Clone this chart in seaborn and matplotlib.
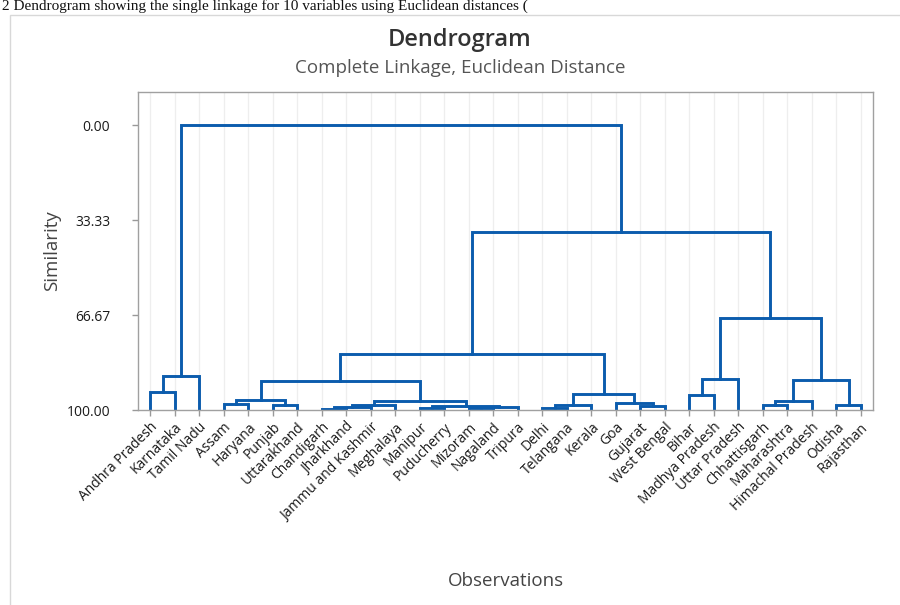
import pandas as pd
import matplotlib.pyplot as plt
from matplotlib.patches import Rectangle
import seaborn as sns

# leaf order as shown on the x axis
states = [
    "Andhra Pradesh", "Karnataka", "Tamil Nadu", "Assam", "Haryana", "Punjab",
    "Uttarakhand", "Chandigarh", "Jharkhand", "Jammu and Kashmir", "Meghalaya",
    "Manipur", "Puducherry", "Mizoram", "Nagaland", "Tripura", "Delhi",
    "Telangana", "Kerala", "Goa", "Gujarat", "West Bengal", "Bihar",
    "Madhya Pradesh", "Uttar Pradesh", "Chhattisgarh", "Maharashtra",
    "Himachal Pradesh", "Odisha", "Rajasthan",
]

# merge steps: ids < 30 are leaves, id 30 + k is the k-th merge
merge_left = [0, 30, 3, 5, 32, 7, 35, 36, 11, 13, 39, 38, 37, 34,
              16, 44, 20, 19, 45, 43, 22, 50, 25, 52, 28, 53, 51, 49, 31]
merge_right = [1, 2, 4, 6, 33, 8, 9, 10, 12, 14, 15, 40, 41, 42,
               17, 18, 21, 46, 47, 48, 23, 24, 26, 27, 29, 54, 55, 56, 57]
merge_sim = [93.7, 88.1, 97.9, 98.2, 96.5, 99.5, 99.0, 98.4, 99.3, 99.4,
             99.0, 98.6, 96.8, 89.7, 99.2, 98.2, 98.6, 97.5, 94.4, 80.4,
             94.7, 89.1, 98.2, 96.8, 98.2, 89.5, 67.7, 37.5, 0.0]

yticks = [0, 33.33, 66.67, 100]
ytick_labels = ["0.00", "33.33", "66.67", "100.00"]

n = len(states)
xpos = {i: float(i) for i in range(n)}
ypos = {i: 100.0 for i in range(n)}
rows = []
for k, (a, b, s) in enumerate(zip(merge_left, merge_right, merge_sim)):
    for x, y in [(xpos[a], ypos[a]), (xpos[a], s), (xpos[b], s), (xpos[b], ypos[b])]:
        rows.append({"seg": k, "x": x, "y": y})
    xpos[n + k] = (xpos[a] + xpos[b]) / 2
    ypos[n + k] = s
segs = pd.DataFrame(rows)

sns.set_theme(style="white")
plt.rcParams["font.family"] = ["Open Sans", "DejaVu Sans"]

fig = plt.figure(figsize=(9, 6.05), dpi=100)
ax = fig.add_axes([138 / 900, 1 - 410 / 605, 735 / 900, 318 / 605])

sns.lineplot(data=segs, x="x", y="y", units="seg", estimator=None, sort=False,
             color="#0b5cad", linewidth=2.1, ax=ax, legend=False,
             solid_joinstyle="miter", solid_capstyle="projecting")

ax.set_xlim(-0.5, n - 0.5)
ax.set_ylim(100, -11.6)
ax.set_xticks(range(n))
ax.set_xticklabels(states, rotation=45, ha="right", rotation_mode="anchor",
                   fontsize=10, color="#1a1a1a")
ax.set_yticks(yticks)
ax.set_yticklabels(ytick_labels, fontsize=10, color="#1a1a1a")
ax.tick_params(axis="both", length=4, width=1, color="#999999", direction="out",
               bottom=True, left=True, pad=3)
ax.tick_params(axis="y", pad=16)
ax.xaxis.grid(True, color="#eeeeee", linewidth=0.9)
ax.set_axisbelow(True)
for sp in ax.spines.values():
    sp.set_color("#a0a0a0")
    sp.set_linewidth(1.0)

ax.set_xlabel("Observations", fontsize=13.5, color="#444444", labelpad=0)
ax.xaxis.set_label_coords(0.5, -0.51)
ax.set_ylabel("Similarity", fontsize=13.5, color="#444444")
ax.yaxis.set_label_coords(-0.104, 0.5)

fig.text(0.511, 0.934, "Dendrogram", ha="center", va="center", fontsize=17,
         fontweight="semibold", color="#333333")
fig.text(0.511, 0.888, "Complete Linkage, Euclidean Distance", ha="center",
         va="center", fontsize=13.5, color="#555555")

# frame of the embedded figure and the caption above it
fig.patches.append(Rectangle((10 / 900, -0.05), 1.0, 1.05 - 15 / 605,
                             transform=fig.transFigure, fill=False,
                             edgecolor="#d8d8d8", linewidth=1.0))
fig.text(0.002, 1 - 10 / 605,
         "2 Dendrogram showing the single linkage for 10 variables using Euclidean distances (",
         ha="left", va="baseline", fontsize=11, color="#111111",
         family=["Liberation Serif", "DejaVu Serif"])

fig.savefig("out.png", dpi=100)
